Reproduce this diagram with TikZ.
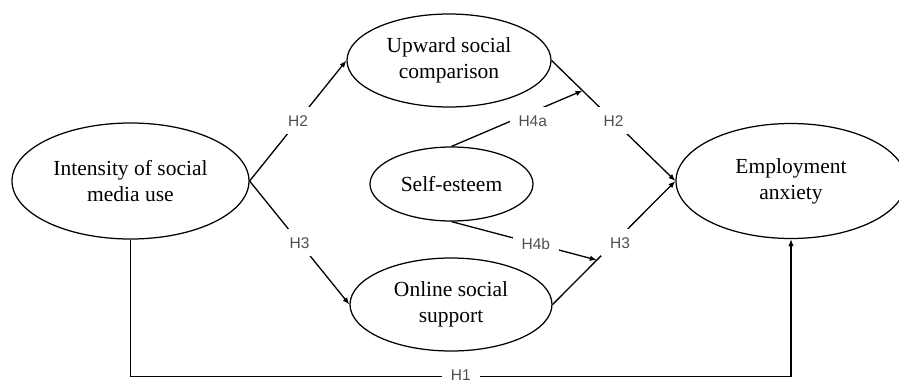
\documentclass[tikz,border=0pt]{standalone}
\usepackage{fontspec}
\setmainfont{Liberation Serif}
\newfontfamily\labfont{Liberation Sans}
\usetikzlibrary{shapes.geometric,arrows.meta,calc}
\definecolor{labgray}{HTML}{505050}
\begin{document}
\begin{tikzpicture}[x=1pt,y=-1pt,
  var/.style={draw, ellipse, line width=1.25pt, inner sep=0pt, align=center, font=\fontsize{21.5}{26}\selectfont},
  lab/.style={fill=white, text=labgray, font=\labfont\fontsize{15.5}{18}\selectfont, inner xsep=9pt, inner ysep=8pt},
  conn/.style={line width=1.3pt},
  arr/.style={conn, -{Latex[length=7pt,width=5.5pt]}}]
\useasboundingbox (0,0) rectangle (899,383);
\clip (0,0) rectangle (899,383);
\node[var, minimum width=237pt, minimum height=116pt] (int) at (130.5,181) {Intensity of social\\media use};
\node[var, minimum width=204pt, minimum height=93pt] (up) at (449,60.5) {Upward social\\comparison};
\node[var, minimum width=163pt, minimum height=74pt] (se) at (451.5,184) {Self-esteem};
\node[var, minimum width=202pt, minimum height=93pt] (onl) at (451,304.5) {Online social\\support};
\node[var, minimum width=230pt, minimum height=115pt] (emp) at (791,181) {Employment\\anxiety};

\draw[arr] (int.east) -- node[lab]{H2} (up.west);
\draw[arr] (int.east) -- node[lab]{H3} (onl.west);
\draw[arr] (up.east) -- node[lab]{H2} (emp.west);
\draw[arr] (onl.east) -- node[lab, xshift=6pt]{H3} (emp.west);

\coordinate (m4a) at ($(up.east)!0.25!(emp.west)$);
\coordinate (m4b) at ($(onl.east)!0.36!(emp.west)$);
\draw[arr] (se.north) -- node[lab, pos=0.62, yshift=-9pt]{H4a} (m4a);
\draw[arr] (se.south) -- node[lab, pos=0.58]{H4b} (m4b);

\coordinate (yb) at (0,376.5);
\draw[arr] (int.south) -- (int.south |- yb) -- node[lab, yshift=1pt]{H1} (emp.south |- yb) -- (emp.south);
\end{tikzpicture}
\end{document}
